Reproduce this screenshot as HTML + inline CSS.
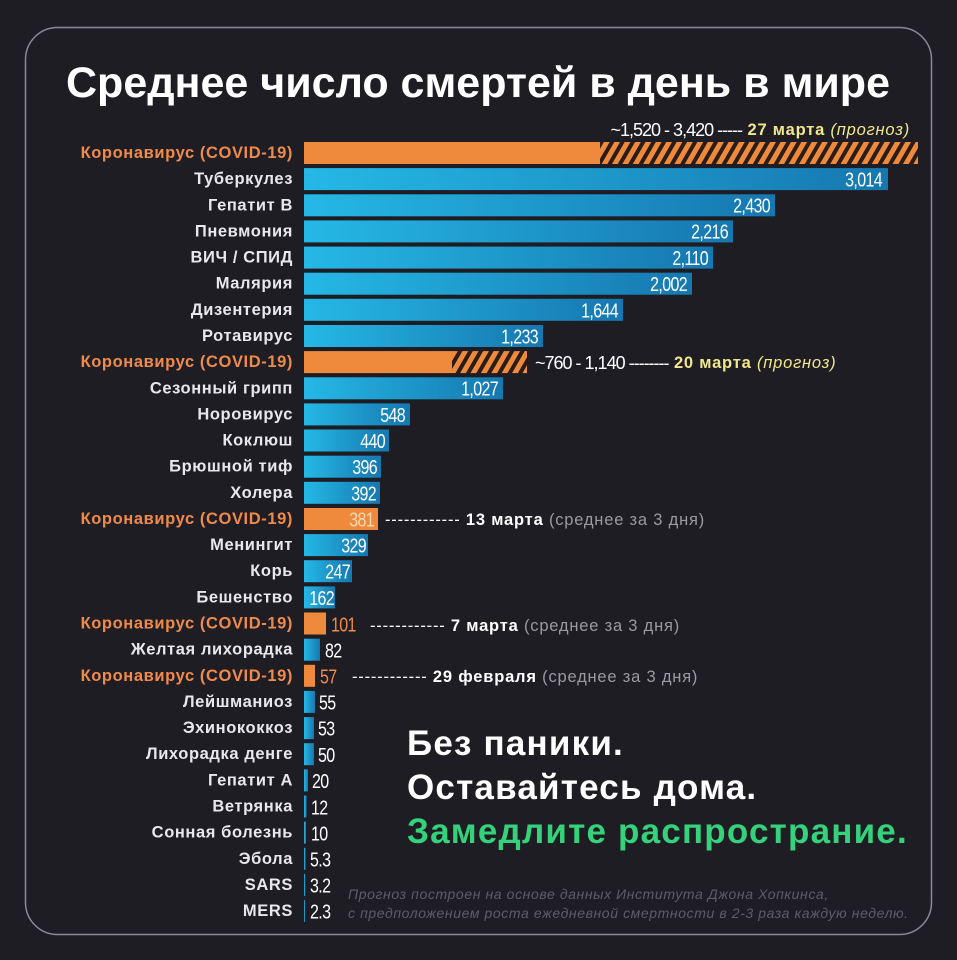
<!DOCTYPE html>
<html><head><meta charset="utf-8"><style>
html,body{margin:0;padding:0;background:#1f1d24;}
svg{display:block}
.lab{font-family:"Liberation Sans",sans-serif;font-weight:bold;font-size:16.5px;letter-spacing:0.6px;fill:#e8e8ec;text-anchor:end;dominant-baseline:central}
.cov{fill:#ef8a4a}
.v{font-family:"Liberation Sans",sans-serif;font-size:20px;fill:#fff;dominant-baseline:central;letter-spacing:-0.8px}
.vi{text-anchor:end}
.an{font-family:"Liberation Sans",sans-serif;font-size:16.5px;letter-spacing:0.8px;fill:#fff;dominant-baseline:central}
.g{fill:#9a9aa0;font-weight:normal}
.y{fill:#f0e68c;font-weight:bold}
.b{font-weight:bold}
.big{font-family:"Liberation Sans",sans-serif;font-weight:bold;font-size:35px;letter-spacing:1.2px;fill:#fff}
.fn{font-family:"Liberation Sans",sans-serif;font-style:italic;font-size:14px;letter-spacing:0.6px;fill:#5d5d66}
</style></head><body>
<svg width="957" height="960" viewBox="0 0 957 960" xmlns="http://www.w3.org/2000/svg">
<defs>
<linearGradient id="bl" x1="0" x2="1" y1="0" y2="0"><stop offset="0" stop-color="#25b8e6"/><stop offset="1" stop-color="#1678b0"/></linearGradient>
<pattern id="hat" width="9" height="9" patternUnits="userSpaceOnUse" patternTransform="rotate(30)"><rect width="9" height="9" fill="#2a1d18"/><rect width="5" height="9" fill="#ef8a3c"/></pattern>
</defs>
<rect width="957" height="960" fill="#1f1d24"/>
<rect x="25.5" y="27.5" width="906" height="907" rx="32" fill="none" stroke="#8a8a92" stroke-width="1.5"/>
<text x="478" y="97" text-anchor="middle" font-family="Liberation Sans,sans-serif" font-weight="bold" font-size="43" fill="#fff">Среднее число смертей в день в мире</text>

<g class="lab">
<text x="293" y="153" class="cov">Коронавирус (COVID-19)</text>
<text x="293" y="179.1">Туберкулез</text>
<text x="293" y="205.3">Гепатит B</text>
<text x="293" y="231.4">Пневмония</text>
<text x="293" y="257.6">ВИЧ / СПИД</text>
<text x="293" y="283.7">Малярия</text>
<text x="293" y="309.8">Дизентерия</text>
<text x="293" y="336">Ротавирус</text>
<text x="293" y="362.1" class="cov">Коронавирус (COVID-19)</text>
<text x="293" y="388.3">Сезонный грипп</text>
<text x="293" y="414.4">Норовирус</text>
<text x="293" y="440.5">Коклюш</text>
<text x="293" y="466.7">Брюшной тиф</text>
<text x="293" y="492.8">Холера</text>
<text x="293" y="519" class="cov">Коронавирус (COVID-19)</text>
<text x="293" y="545.1">Менингит</text>
<text x="293" y="571.2">Корь</text>
<text x="293" y="597.4">Бешенство</text>
<text x="293" y="623.5" class="cov">Коронавирус (COVID-19)</text>
<text x="293" y="649.7">Желтая лихорадка</text>
<text x="293" y="675.8" class="cov">Коронавирус (COVID-19)</text>
<text x="293" y="701.9">Лейшманиоз</text>
<text x="293" y="728.1">Эхинококкоз</text>
<text x="293" y="754.2">Лихорадка денге</text>
<text x="293" y="780.4">Гепатит A</text>
<text x="293" y="806.5">Ветрянка</text>
<text x="293" y="832.6">Сонная болезнь</text>
<text x="293" y="858.8">Эбола</text>
<text x="293" y="884.9">SARS</text>
<text x="293" y="911">MERS</text>
</g>

<rect x="304" y="142" width="296" height="22" fill="#ef8a3c"/>
<rect x="600" y="142" width="318" height="22" fill="url(#hat)"/>
<g fill="url(#bl)">
<rect x="304" y="168.1" width="584" height="22"/>
<rect x="304" y="194.3" width="471" height="22"/>
<rect x="304" y="220.4" width="429" height="22"/>
<rect x="304" y="246.6" width="409" height="22"/>
<rect x="304" y="272.7" width="388" height="22"/>
<rect x="304" y="298.8" width="319" height="22"/>
<rect x="304" y="325" width="239" height="22"/>
<rect x="304" y="377.3" width="199" height="22"/>
<rect x="304" y="403.4" width="106" height="22"/>
<rect x="304" y="429.5" width="85" height="22"/>
<rect x="304" y="455.7" width="77" height="22"/>
<rect x="304" y="481.8" width="76" height="22"/>
<rect x="304" y="534.1" width="64" height="22"/>
<rect x="304" y="560.2" width="48" height="22"/>
<rect x="304" y="586.4" width="31" height="22"/>
<rect x="304" y="638.7" width="16" height="22"/>
<rect x="304" y="690.9" width="11" height="22"/>
<rect x="304" y="717.1" width="10" height="22"/>
<rect x="304" y="743.2" width="10" height="22"/>
<rect x="304" y="769.4" width="4" height="22"/>
<rect x="304" y="795.5" width="2.5" height="22"/>
<rect x="304" y="821.6" width="2" height="22"/>
<rect x="304" y="847.8" width="1.5" height="22"/>
<rect x="304" y="873.9" width="1.2" height="22"/>
<rect x="304" y="900" width="1" height="22"/>
</g>
<rect x="304" y="351.1" width="148" height="22" fill="#ef8a3c"/>
<rect x="452" y="351.1" width="75" height="22" fill="url(#hat)"/>
<rect x="304" y="508" width="74" height="22" fill="#ef8a3c"/>
<rect x="304" y="612.5" width="22" height="22" fill="#ef8a3c"/>
<rect x="304" y="664.8" width="11" height="22" fill="#ef8a3c"/>

<g class="v">
<text class="vi" transform="translate(882,180) scale(0.8,1)">3,014</text>
<text class="vi" transform="translate(770,206) scale(0.8,1)">2,430</text>
<text class="vi" transform="translate(728,232) scale(0.8,1)">2,216</text>
<text class="vi" transform="translate(708,258.5) scale(0.8,1)">2,110</text>
<text class="vi" transform="translate(687,284.5) scale(0.8,1)">2,002</text>
<text class="vi" transform="translate(618,311) scale(0.8,1)">1,644</text>
<text class="vi" transform="translate(538,337) scale(0.8,1)">1,233</text>
<text class="vi" transform="translate(498,389) scale(0.8,1)">1,027</text>
<text class="vi" transform="translate(405,415.5) scale(0.8,1)">548</text>
<text class="vi" transform="translate(385,441.5) scale(0.8,1)">440</text>
<text class="vi" transform="translate(377,467.5) scale(0.8,1)">396</text>
<text class="vi" transform="translate(376,494) scale(0.8,1)">392</text>
<text class="vi" transform="translate(374,520) scale(0.8,1)" style="fill:#fbd9b5">381</text>
<text class="vi" transform="translate(366,546) scale(0.8,1)">329</text>
<text class="vi" transform="translate(350,572) scale(0.8,1)">247</text>
<text class="vi" transform="translate(334,598.5) scale(0.8,1)">162</text>
<text transform="translate(331,625) scale(0.8,1)" style="fill:#ef8a4a">101</text>
<text transform="translate(325,651) scale(0.8,1)">82</text>
<text transform="translate(320,677) scale(0.8,1)" style="fill:#ef8a4a">57</text>
<text transform="translate(319,703) scale(0.8,1)">55</text>
<text transform="translate(318,729) scale(0.8,1)">53</text>
<text transform="translate(318,755.5) scale(0.8,1)">50</text>
<text transform="translate(312,781.5) scale(0.8,1)">20</text>
<text transform="translate(311,808) scale(0.8,1)">12</text>
<text transform="translate(311,834) scale(0.8,1)">10</text>
<text transform="translate(310,860) scale(0.8,1)">5.3</text>
<text transform="translate(310,886) scale(0.8,1)">3.2</text>
<text transform="translate(310,912) scale(0.8,1)">2.3</text>
</g>

<text class="an" x="910" y="130" text-anchor="end"><tspan style="font-size:18px;letter-spacing:-1px">~1,520 - 3,420 -----</tspan> <tspan class="y">27 марта</tspan> <tspan style="fill:#f0e68c;font-style:italic">(прогноз)</tspan></text>
<text class="an" x="535" y="363"><tspan style="font-size:18px;letter-spacing:-1px">~760 - 1,140 --------</tspan> <tspan class="y">20 марта</tspan> <tspan style="fill:#f0e68c;font-style:italic">(прогноз)</tspan></text>
<text class="an" x="385" y="520">------------ <tspan class="b">13 марта</tspan> <tspan class="g">(среднее за 3 дня)</tspan></text>
<text class="an" x="370" y="626">------------ <tspan class="b">7 марта</tspan> <tspan class="g">(среднее за 3 дня)</tspan></text>
<text class="an" x="352" y="677">------------ <tspan class="b">29 февраля</tspan> <tspan class="g">(среднее за 3 дня)</tspan></text>

<text class="big" x="407" y="755">Без паники.</text>
<text class="big" x="407" y="799">Оставайтесь дома.</text>
<text class="big" x="407" y="843" style="fill:#34d27a">Замедлите распространие.</text>

<text class="fn" x="348" y="899">Прогноз построен на основе данных Института Джона Хопкинса,</text>
<text class="fn" x="348" y="918">с предположением роста ежедневной смертности в 2-3 раза каждую неделю.</text>
</svg>
</body></html>
